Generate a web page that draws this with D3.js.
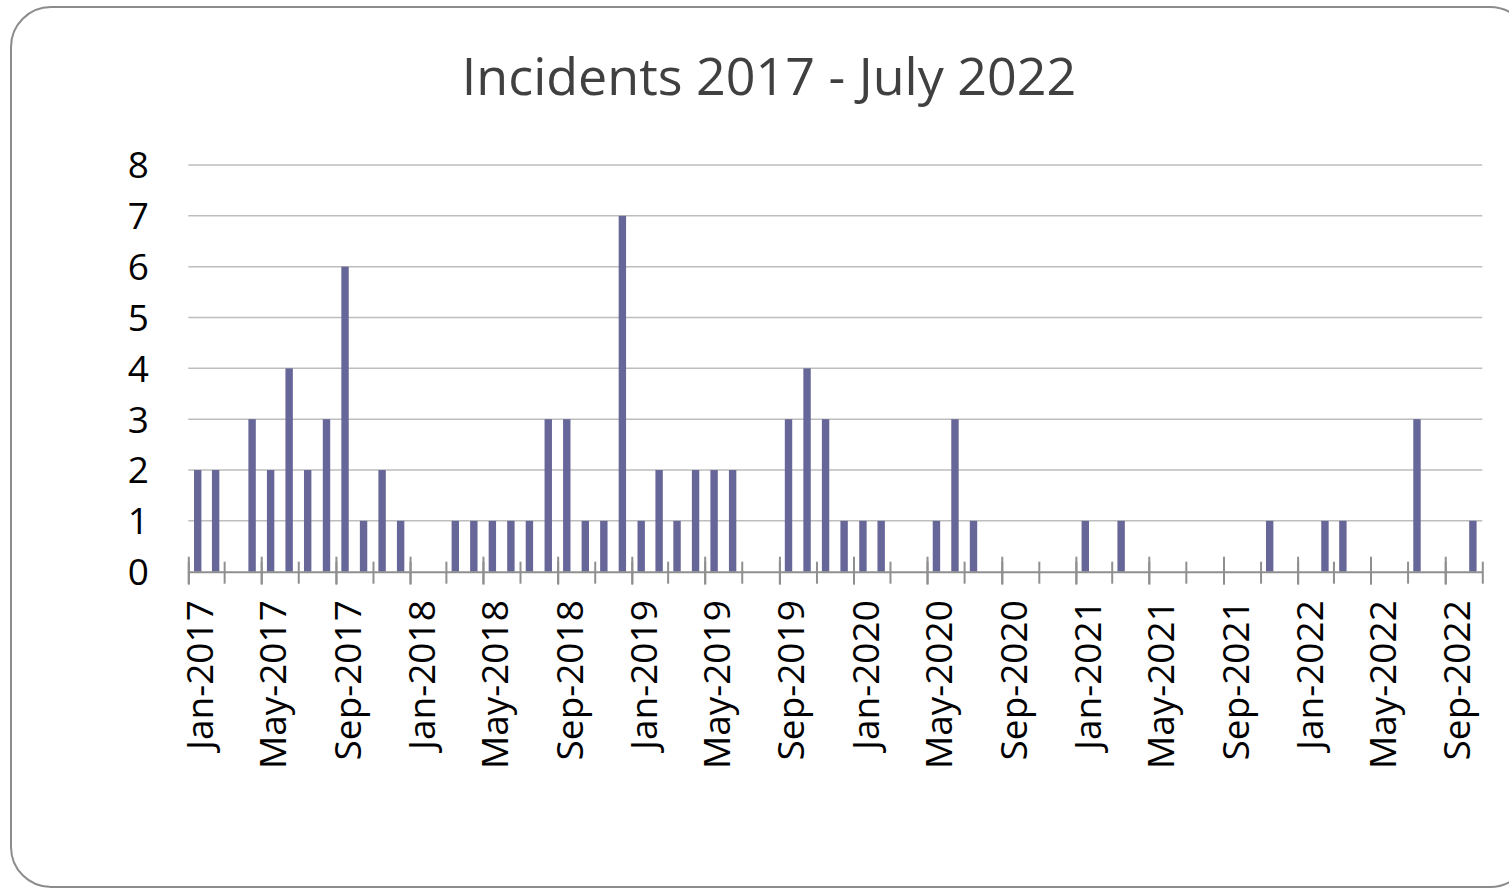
<!DOCTYPE html>
<html>
<head>
<meta charset="utf-8">
<script src="https://cdn.jsdelivr.net/npm/d3@7"></script>
<style>
  body { margin: 0; background: #fff; }
  svg { display: block; }
</style>
</head>
<body>
<svg id="chart" width="1509" height="888"></svg>
<script>
// monthly incident counts, Jan 2017 .. Oct 2022
const months = [
  '2017-01', '2017-02', '2017-03', '2017-04', '2017-05', '2017-06',
  '2017-07', '2017-08', '2017-09', '2017-10', '2017-11', '2017-12',
  '2018-01', '2018-02', '2018-03', '2018-04', '2018-05', '2018-06',
  '2018-07', '2018-08', '2018-09', '2018-10', '2018-11', '2018-12',
  '2019-01', '2019-02', '2019-03', '2019-04', '2019-05', '2019-06',
  '2019-07', '2019-08', '2019-09', '2019-10', '2019-11', '2019-12',
  '2020-01', '2020-02', '2020-03', '2020-04', '2020-05', '2020-06',
  '2020-07', '2020-08', '2020-09', '2020-10', '2020-11', '2020-12',
  '2021-01', '2021-02', '2021-03', '2021-04', '2021-05', '2021-06',
  '2021-07', '2021-08', '2021-09', '2021-10', '2021-11', '2021-12',
  '2022-01', '2022-02', '2022-03', '2022-04', '2022-05', '2022-06',
  '2022-07', '2022-08', '2022-09', '2022-10',
];
const incidents = [
  2, 2, 0, 3, 2, 4, 2, 3, 6, 1, 2, 1,
  0, 0, 1, 1, 1, 1, 1, 3, 3, 1, 1, 7,
  1, 2, 1, 2, 2, 2, 0, 0, 3, 4, 3, 1,
  1, 1, 0, 0, 1, 3, 1, 0, 0, 0, 0, 0,
  1, 0, 1, 0, 0, 0, 0, 0, 0, 0, 1, 0,
  0, 1, 1, 0, 0, 0, 3, 0, 0, 1,
];
const yTicks = [0, 1, 2, 3, 4, 5, 6, 7, 8];
const title = 'Incidents 2017 - July 2022';

const parse = d3.timeParse('%Y-%m');
const data = months.map((m, i) => ({date: parse(m), value: incidents[i]}));

const font = '"Open Sans", sans-serif';
const svg = d3.select('#chart');

// chart frame
svg.append('rect')
  .attr('x', 11).attr('y', 7)
  .attr('width', 1519).attr('height', 880)
  .attr('rx', 40).attr('ry', 40)
  .style('fill', '#fff')
  .style('stroke', '#8c8c8c')
  .style('stroke-width', 2);

svg.append('text')
  .attr('x', 769)
  .attr('y', 95)
  .attr('text-anchor', 'middle')
  .style('font-family', font)
  .style('font-size', '52px')
  .style('fill', '#404040')
  .text(title);

const x = d3.scaleTime()
  .domain([parse('2017-01'), parse('2022-11')])
  .range([188.3, 1482.3]);
const y = d3.scaleLinear().domain([0, 8]).range([571.7, 165]);

// gridlines
svg.append('g')
  .selectAll('line')
  .data(yTicks.slice(1))
  .enter()
  .append('line')
  .attr('x1', x.range()[0])
  .attr('x2', x.range()[1])
  .attr('y1', d => y(d))
  .attr('y2', d => y(d))
  .style('stroke', '#bdbdbd')
  .style('stroke-width', 1.5);

// y labels
svg.append('g')
  .selectAll('text')
  .data(yTicks)
  .enter()
  .append('text')
  .attr('x', 149)
  .attr('y', d => y(d))
  .attr('dy', '0.36em')
  .attr('text-anchor', 'end')
  .style('font-family', font)
  .style('font-size', '37px')
  .style('fill', '#000')
  .text(d => d);

// bars centred in their month slot
const barW = 7.4;
svg.append('g')
  .selectAll('rect')
  .data(data.filter(d => d.value > 0))
  .enter()
  .append('rect')
  .attr('x', d => {
    const mid = (x(d.date) + x(d3.timeMonth.offset(d.date, 1))) / 2;
    return mid - barW / 2;
  })
  .attr('y', d => y(d.value))
  .attr('width', barW)
  .attr('height', d => y(0) - y(d.value))
  .style('fill', '#666699');

// minor ticks every 2 months
const minor = svg.append('g')
  .attr('transform', `translate(0,${y(0)})`)
  .call(d3.axisBottom(x).ticks(d3.timeMonth.every(2)).tickFormat(''));
minor.select('.domain').remove();
minor.selectAll('.tick line')
  .attr('y1', -10).attr('y2', 12)
  .style('stroke', '#8f8f8f')
  .style('stroke-width', 2);

// major ticks + labels every 4 months
const major = svg.append('g')
  .attr('transform', `translate(0,${y(0)})`)
  .call(
    d3.axisBottom(x)
      .ticks(d3.timeMonth.every(4))
      .tickFormat(d3.timeFormat('%b-%Y'))
      .tickSizeOuter(0)
  );
major.select('.domain')
  .style('stroke', '#8f8f8f')
  .style('stroke-width', 2);
major.selectAll('.tick line')
  .attr('y1', -15).attr('y2', 13)
  .style('stroke', '#8f8f8f')
  .style('stroke-width', 2);
major.selectAll('.tick text')
  .attr('transform', 'rotate(-90)')
  .attr('x', -28.5)
  .attr('y', 24.5)
  .attr('dy', 0)
  .attr('text-anchor', 'end')
  .style('font-family', font)
  .style('font-size', '37px')
  .style('fill', '#000');
</script>
</body>
</html>
